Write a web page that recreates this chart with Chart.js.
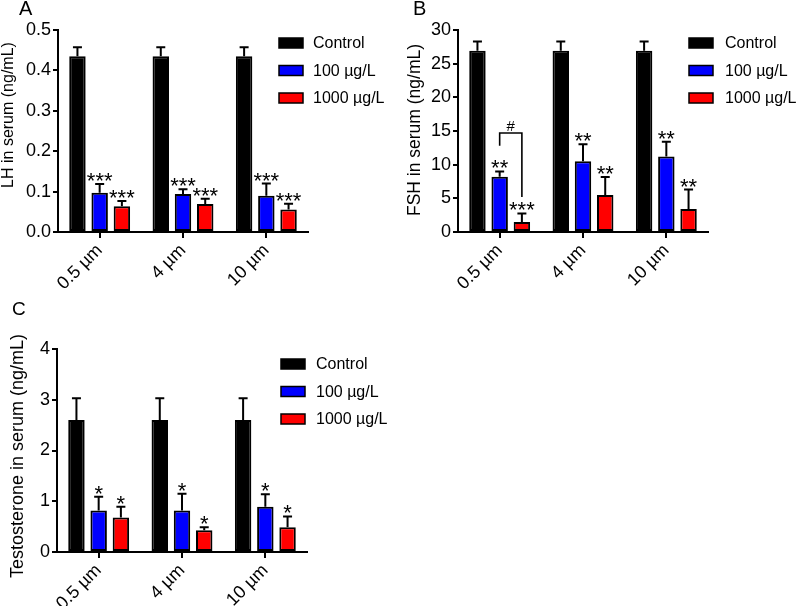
<!DOCTYPE html>
<html><head><meta charset="utf-8">
<script src="https://cdn.jsdelivr.net/npm/chart.js@4.4.0/dist/chart.umd.min.js"></script>
<style>
html,body{margin:0;padding:0;background:#fff;}
#wrap{position:relative;width:797px;height:606px;overflow:hidden;background:#fff;}
.panel{position:absolute;overflow:hidden;}
</style></head><body>
<div id="wrap">
  <div class="panel" style="left:0;top:0;width:400px;height:300px"><canvas id="cA" width="400" height="300"></canvas></div>
  <div class="panel" style="left:400px;top:0;width:397px;height:300px"><canvas id="cB" width="397" height="300"></canvas></div>
  <div class="panel" style="left:0;top:300px;width:400px;height:306px"><canvas id="cC" width="400" height="306"></canvas></div>
</div>
<script>
// ---------- data ----------
const categories = ["0.5 µm", "4 µm", "10 µm"];
const seriesNames = ["Control", "100 µg/L", "1000 µg/L"];
const seriesColors = ["#000000", "#0000ff", "#ff0000"];

// Panel A: LH (ng/mL)
const lhControl = [0.435, 0.435, 0.435];
const lhControlErr = [0.022, 0.022, 0.022];
const lh100 = [0.097, 0.094, 0.090];
const lh100Err = [0.022, 0.012, 0.030];
const lh1000 = [0.064, 0.069, 0.056];
const lh1000Err = [0.013, 0.013, 0.014];
const lhSig100 = ["***", "***", "***"];
const lhSig1000 = ["***", "***", "***"];
const lhTicks = ["0.0", "0.1", "0.2", "0.3", "0.4", "0.5"];

// Panel B: FSH (ng/mL)
const fshControl = [26.9, 26.9, 26.9];
const fshControlErr = [1.4, 1.4, 1.4];
const fsh100 = [8.2, 10.5, 11.2];
const fsh100Err = [0.8, 2.55, 2.2];
const fsh1000 = [1.5, 5.5, 3.4];
const fsh1000Err = [1.25, 2.65, 2.9];
const fshSig100 = ["**", "**", "**"];
const fshSig1000 = ["***", "**", "**"];
const fshTicks = ["0", "5", "10", "15", "20", "25", "30"];
const fshBracketTop = 14.7;
const fshBracketEnds = [12.8, 5.2];
const fshBracketLabel = "#";

// Panel C: Testosterone (ng/mL)
const tControl = [2.6, 2.6, 2.6];
const tControlErr = [0.43, 0.43, 0.43];
const t100 = [0.82, 0.82, 0.89];
const t100Err = [0.27, 0.33, 0.25];
const t1000 = [0.68, 0.43, 0.49];
const t1000Err = [0.21, 0.06, 0.21];
const tSig100 = ["*", "*", "*"];
const tSig1000 = ["*", "*", "*"];
const tTicks = ["0", "1", "2", "3", "4"];

// ---------- rendering ----------
const FONT = "'Liberation Sans', Arial, Helvetica, sans-serif";
Chart.defaults.font.family = FONT;
Chart.defaults.color = "#000";

const decorPlugin = {
  id: 'decor',
  afterDatasetsDraw(chart, args, o) {
    const ctx = chart.ctx, ys = chart.scales.y;
    ctx.save();
    ctx.strokeStyle = '#000';
    ctx.fillStyle = '#000';
    ctx.lineWidth = 2;
    chart.data.datasets.forEach((ds, i) => {
      const meta = chart.getDatasetMeta(i);
      meta.data.forEach((bar, j) => {
        const top = ys.getPixelForValue(ds.data[j] + ds.errors[j]);
        ctx.beginPath();
        ctx.moveTo(bar.x, bar.y); ctx.lineTo(bar.x, top);
        ctx.moveTo(bar.x - 4.5, top); ctx.lineTo(bar.x + 4.5, top);
        ctx.stroke();
        const s = ds.sig ? ds.sig[j] : '';
        if (s) {
          ctx.font = '22px ' + FONT;
          ctx.textAlign = 'center';
          ctx.textBaseline = 'alphabetic';
          const m = ctx.measureText(s);
          const d = -m.actualBoundingBoxDescent;
          ctx.fillText(s, bar.x, top - 3 + d);
        }
      });
    });
    if (o.bracket) {
      const b = o.bracket;
      const xa = chart.getDatasetMeta(b.a).data[b.cat].x;
      const xb = chart.getDatasetMeta(b.b).data[b.cat].x;
      const yt = ys.getPixelForValue(b.top);
      ctx.lineWidth = 1.6;
      ctx.beginPath();
      ctx.moveTo(xa, ys.getPixelForValue(b.ends[0]));
      ctx.lineTo(xa, yt); ctx.lineTo(xb, yt);
      ctx.lineTo(xb, ys.getPixelForValue(b.ends[1]));
      ctx.stroke();
      ctx.font = '15px ' + FONT;
      ctx.textAlign = 'center';
      ctx.textBaseline = 'alphabetic';
      ctx.fillText(b.label, (xa + xb) / 2, yt - 2);
    }
    ctx.restore();
  },
  afterDraw(chart, args, o) {
    const ctx = chart.ctx;
    ctx.save();
    ctx.fillStyle = '#000';
    ctx.font = o.letterSize + 'px ' + FONT;
    ctx.textAlign = 'left';
    ctx.textBaseline = 'alphabetic';
    ctx.fillText(o.letter, o.letterX, o.letterY);
    ctx.save();
    ctx.translate(o.titleX, o.titleY);
    ctx.rotate(-Math.PI / 2);
    ctx.font = o.titleSize + 'px ' + FONT;
    ctx.textAlign = 'center';
    ctx.textBaseline = 'middle';
    ctx.fillText(o.title, 0, 0);
    ctx.restore();
    const L = o.legend;
    chart.data.datasets.forEach((ds, i) => {
      const cy = L.y + i * L.gap;
      ctx.fillStyle = ds.backgroundColor;
      ctx.fillRect(L.x, cy - L.h / 2, L.w, L.h);
      ctx.strokeStyle = '#000';
      ctx.lineWidth = 1.5;
      ctx.strokeRect(L.x, cy - L.h / 2, L.w, L.h);
      ctx.fillStyle = '#000';
      ctx.font = '16px ' + FONT;
      ctx.textAlign = 'left';
      ctx.textBaseline = 'middle';
      ctx.fillText(ds.label, L.textX, cy + 1);
    });
    ctx.restore();
  }
};

function makePanel(id, W, H, area, padLeft, vals, errs, sigs, ticks, yMax, step, decor) {
  const datasets = vals.map((v, i) => ({
    label: seriesNames[i],
    data: v,
    errors: errs[i],
    sig: sigs[i],
    backgroundColor: seriesColors[i],
    borderColor: '#000',
    borderWidth: 2,
    borderSkipped: false,
    categoryPercentage: 0.8,
    barPercentage: 0.74
  }));
  return new Chart(document.getElementById(id), {
    type: 'bar',
    data: { labels: categories, datasets },
    options: {
      responsive: false,
      animation: false,
      devicePixelRatio: 1,
      layout: { padding: { left: padLeft, top: area.top, right: W - area.right, bottom: 0 } },
      plugins: { legend: { display: false }, tooltip: { enabled: false }, decor },
      scales: {
        x: {
          grid: { display: true, drawOnChartArea: false, drawTicks: true, tickLength: 6, offset: false, color: '#000', lineWidth: 2 },
          border: { display: true, color: '#000', width: 2 },
          ticks: { font: { size: 18 }, color: '#000', minRotation: 45, maxRotation: 45, padding: 2, autoSkip: false },
          afterFit(s) { s.height = H - area.bottom; s.paddingLeft = 0; s.paddingRight = 0; }
        },
        y: {
          min: 0, max: yMax,
          grid: { display: true, drawOnChartArea: false, drawTicks: true, tickLength: 5, color: '#000', lineWidth: 2 },
          border: { display: true, color: '#000', width: 2 },
          ticks: { stepSize: step, font: { size: 18 }, color: '#000', padding: 2,
                   callback: (v, i) => ticks[i] },
          afterFit(s) { s.width = area.left - padLeft; s.paddingTop = 0; s.paddingBottom = 0; }
        }
      }
    },
    plugins: [decorPlugin]
  });
}

makePanel('cA', 400, 300, { left: 58, right: 308, top: 30, bottom: 232 }, 0,
  [lhControl, lh100, lh1000], [lhControlErr, lh100Err, lh1000Err], [null, lhSig100, lhSig1000],
  lhTicks, 0.5, 0.1,
  { letter: 'A', letterX: 19, letterY: 15, letterSize: 20,
    title: 'LH in serum (ng/mL)', titleX: 9, titleY: 115, titleSize: 16,
    legend: { x: 279, y: 43, gap: 27.5, w: 24, h: 10, textX: 313 } });

makePanel('cB', 397, 300, { left: 58, right: 308, top: 30, bottom: 232 }, 6,
  [fshControl, fsh100, fsh1000], [fshControlErr, fsh100Err, fsh1000Err], [null, fshSig100, fshSig1000],
  fshTicks, 30, 5,
  { letter: 'B', letterX: 13, letterY: 15, letterSize: 20,
    title: 'FSH in serum (ng/mL)', titleX: 15.5, titleY: 130, titleSize: 17.5,
    legend: { x: 289, y: 43, gap: 27.5, w: 24, h: 10, textX: 325 },
    bracket: { cat: 0, a: 1, b: 2, top: fshBracketTop, ends: fshBracketEnds, label: fshBracketLabel } });

makePanel('cC', 400, 306, { left: 57, right: 307, top: 49, bottom: 252 }, 9,
  [tControl, t100, t1000], [tControlErr, t100Err, t1000Err], [null, tSig100, tSig1000],
  tTicks, 4, 1,
  { letter: 'C', letterX: 12, letterY: 15, letterSize: 19,
    title: 'Testosterone in serum (ng/mL)', titleX: 18.5, titleY: 156, titleSize: 18,
    legend: { x: 281, y: 64, gap: 27.5, w: 24, h: 10, textX: 316 } });
</script>
</body></html>
